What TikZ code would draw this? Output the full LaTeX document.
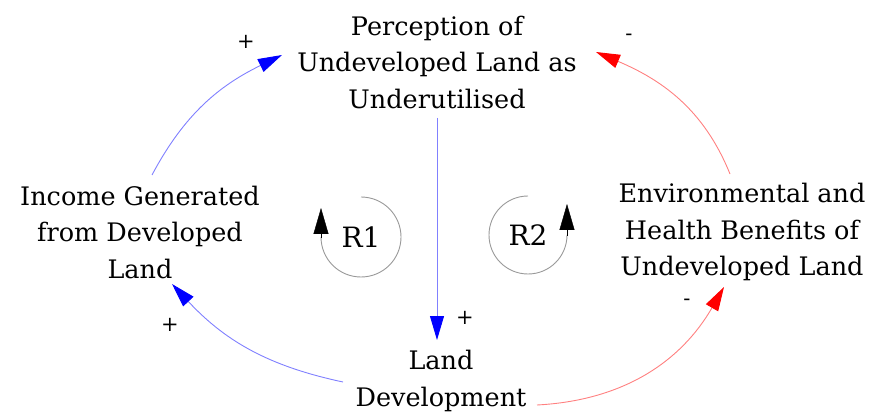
\documentclass[tikz,border=0pt]{standalone}
\usepackage{fontspec}
\setmainfont{DejaVu Serif}
\usetikzlibrary{arrows.meta,calc}
\begin{document}
\begin{tikzpicture}[x=1pt,y=1pt,
  var/.style={align=center,inner sep=0pt,font=\fontsize{25.5}{36.5}\selectfont},
  pol/.style={inner sep=0pt,font=\fontsize{21}{24}\selectfont},
  poslink/.style={draw=blue!50,line width=0.9pt,-{Triangle[length=24pt,width=14pt,fill=blue,color=blue]}},
  neglink/.style={draw=red!50,line width=0.9pt,-{Triangle[length=24pt,width=14pt,fill=red,color=red]}},
  loopline/.style={draw=gray!80,line width=0.9pt},
  looptip/.style={-{Triangle[length=26pt,width=15pt,black]}},
  looplabel/.style={inner sep=0pt,font=\fontsize{28}{30}\selectfont}]
\useasboundingbox (0,0) rectangle (876,-414);
\node[var] (perc) at (437,-62) {Perception of\\Undeveloped Land as\\Underutilised};
\node[var] (inc) at (140,-232) {Income Generated\\from Developed\\Land};
\node[var] (env) at (742,-232) {Environmental and\\Health Benefits of\\Undeveloped Land};
\node[var] (land) at (441,-381) {Land\\Development};
\node[looplabel] (r1) at (361,-237) {R1};
\node[looplabel] (r2) at (528,-235) {R2};
\draw[loopline] ($(r1)+(0,40)$) arc[start angle=90,end angle=-180,radius=40];
\draw[looptip] ($(r1)+(-40,-1)$) -- ($(r1)+(-40,29)$);
\draw[loopline] ($(r2)+(0,39)$) arc[start angle=90,end angle=360,radius=39];
\draw[looptip] ($(r2)+(39,-1)$) -- ($(r2)+(39,31)$);
\draw[poslink] ($(inc)+(12,57)$) to[out=62,in=206] ($(perc)+(-155,7)$);
\draw[poslink] ($(perc)+(0,-56)$) -- ($(land)+(-4,41)$);
\draw[poslink] ($(land)+(-98,-1)$) to[out=168,in=-47] ($(inc)+(32,-52)$);
\draw[neglink] ($(land)+(96,-24)$) to[out=3,in=240] ($(env)+(-18,-55)$);
\draw[neglink] ($(env)+(-12,58)$) to[out=112,in=-23] ($(perc)+(159,10)$);
\node[pol] (p1) at (246,-42) {+};
\node[pol] (p2) at (465,-318) {+};
\node[pol] (p3) at (170,-325) {+};
\node[pol] (n1) at (687,-302) {-};
\node[pol] (n2) at (629,-37) {-};
\end{tikzpicture}
\end{document}
